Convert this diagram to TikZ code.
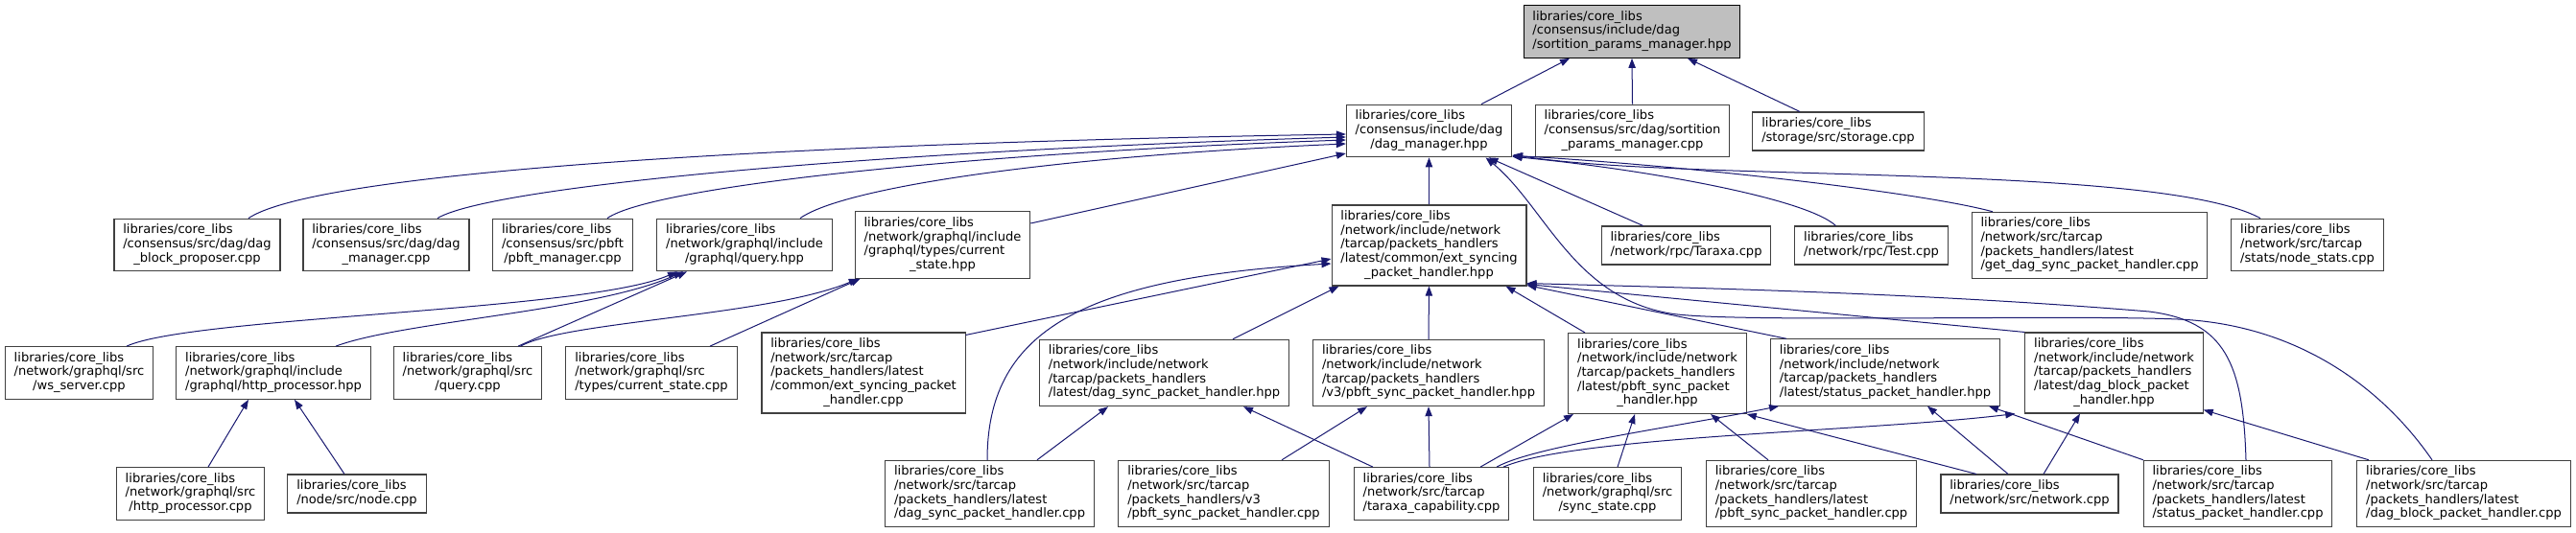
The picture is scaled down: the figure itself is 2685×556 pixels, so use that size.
\documentclass[tikz,border=0pt]{standalone}
\usepackage{fontspec}
\setmainfont{DejaVu Sans}
\usepackage{tikz}
\usetikzlibrary{arrows.meta, calc}

\definecolor{edgeblue}{HTML}{191970}
\definecolor{boxline}{HTML}{404040}
\definecolor{rootfill}{HTML}{BFBFBF}

% file label: left-aligned lines, last line centred
\newcommand{\flines}[2]{\begin{tabular}{@{}l@{}}#1\\\multicolumn{1}{@{}c@{}}{#2}\end{tabular}}

\begin{document}
\begin{tikzpicture}[
    x=0.75pt, y=-0.75pt,
    %% ── node styles ──────────────────────────────────────────
    filebox/.style = {draw=boxline, line width=0.8pt, fill=white,
                      inner xsep=7pt, inner ysep=4pt,
                      font=\fontsize{9.8}{11}\selectfont},
    rootbox/.style = {filebox, draw=black, fill=rootfill},
    incl/.style    = {draw=edgeblue, line width=0.75pt,
                      -{Triangle[length=7.5pt,width=5.5pt]}}
]
\useasboundingbox (0,0) rectangle (2685,556);

%% ── Root header ──────────────────────────────────────────────
\node[rootbox] (spm) at (1701,33)
    {\flines{libraries/core\_libs\\/consensus/include/dag}{/sortition\_params\_manager.hpp}};

%% ── Row 1 ────────────────────────────────────────────────────
\node[filebox] (dmh)  at (1489.5,136.5)
    {\flines{libraries/core\_libs\\/consensus/include/dag}{/dag\_manager.hpp}};
\node[filebox] (spmc) at (1701.5,136.5)
    {\flines{libraries/core\_libs\\/consensus/src/dag/sortition}{\_params\_manager.cpp}};
\node[filebox] (sto)  at (1916,137)
    {\flines{libraries/core\_libs}{/storage/src/storage.cpp}};

%% ── Row 2 ────────────────────────────────────────────────────
\node[filebox] (dbp) at (205.5,255.5)
    {\flines{libraries/core\_libs\\/consensus/src/dag/dag}{\_block\_proposer.cpp}};
\node[filebox] (dmc) at (402.5,255.5)
    {\flines{libraries/core\_libs\\/consensus/src/dag/dag}{\_manager.cpp}};
\node[filebox] (pbm) at (586.5,255.5)
    {\flines{libraries/core\_libs\\/consensus/src/pbft}{/pbft\_manager.cpp}};
\node[filebox] (qh)  at (776,255.5)
    {\flines{libraries/core\_libs\\/network/graphql/include}{/graphql/query.hpp}};
\node[filebox] (csh) at (982.5,255.5)
    {\flines{libraries/core\_libs\\/network/graphql/include\\/graphql/types/current}{\_state.hpp}};
\node[filebox] (esh) at (1489.5,256)
    {\flines{libraries/core\_libs\\/network/include/network\\/tarcap/packets\_handlers\\/latest/common/ext\_syncing}{\_packet\_handler.hpp}};
\node[filebox] (tar) at (1757.5,256)
    {\flines{libraries/core\_libs}{/network/rpc/Taraxa.cpp}};
\node[filebox] (tst) at (1950.5,256)
    {\flines{libraries/core\_libs}{/network/rpc/Test.cpp}};
\node[filebox] (gds) at (2178,256)
    {\flines{libraries/core\_libs\\/network/src/tarcap\\/packets\_handlers/latest}{/get\_dag\_sync\_packet\_handler.cpp}};
\node[filebox] (nst) at (2405,255.5)
    {\flines{libraries/core\_libs\\/network/src/tarcap}{/stats/node\_stats.cpp}};

%% ── Row 3 ────────────────────────────────────────────────────
\node[filebox] (wss) at (82.5,389)
    {\flines{libraries/core\_libs\\/network/graphql/src}{/ws\_server.cpp}};
\node[filebox] (hph) at (285,389)
    {\flines{libraries/core\_libs\\/network/graphql/include}{/graphql/http\_processor.hpp}};
\node[filebox] (qc)  at (487.5,389)
    {\flines{libraries/core\_libs\\/network/graphql/src}{/query.cpp}};
\node[filebox] (csc) at (679,389)
    {\flines{libraries/core\_libs\\/network/graphql/src}{/types/current\_state.cpp}};
\node[filebox] (esc) at (900,389)
    {\flines{libraries/core\_libs\\/network/src/tarcap\\/packets\_handlers/latest\\/common/ext\_syncing\_packet}{\_handler.cpp}};
\node[filebox] (dsh) at (1213.5,389)
    {\flines{libraries/core\_libs\\/network/include/network\\/tarcap/packets\_handlers}{/latest/dag\_sync\_packet\_handler.hpp}};
\node[filebox] (psv3h) at (1489,389)
    {\flines{libraries/core\_libs\\/network/include/network\\/tarcap/packets\_handlers}{/v3/pbft\_sync\_packet\_handler.hpp}};
\node[filebox] (psh) at (1727.5,389.5)
    {\flines{libraries/core\_libs\\/network/include/network\\/tarcap/packets\_handlers\\/latest/pbft\_sync\_packet}{\_handler.hpp}};
\node[filebox] (sth) at (1965,388.5)
    {\flines{libraries/core\_libs\\/network/include/network\\/tarcap/packets\_handlers}{/latest/status\_packet\_handler.hpp}};
\node[filebox] (dbh) at (2203.5,389)
    {\flines{libraries/core\_libs\\/network/include/network\\/tarcap/packets\_handlers\\/latest/dag\_block\_packet}{\_handler.hpp}};

%% ── Row 4 ────────────────────────────────────────────────────
\node[filebox] (hpc) at (198.5,515)
    {\flines{libraries/core\_libs\\/network/graphql/src}{/http\_processor.cpp}};
\node[filebox] (ndc) at (372,515)
    {\flines{libraries/core\_libs}{/node/src/node.cpp}};
\node[filebox] (dsc) at (1031.5,515)
    {\flines{libraries/core\_libs\\/network/src/tarcap\\/packets\_handlers/latest}{/dag\_sync\_packet\_handler.cpp}};
\node[filebox] (psv3c) at (1275.5,515)
    {\flines{libraries/core\_libs\\/network/src/tarcap\\/packets\_handlers/v3}{/pbft\_sync\_packet\_handler.cpp}};
\node[filebox] (tcc) at (1492,515)
    {\flines{libraries/core\_libs\\/network/src/tarcap}{/taraxa\_capability.cpp}};
\node[filebox] (ssc) at (1675.5,515)
    {\flines{libraries/core\_libs\\/network/graphql/src}{/sync\_state.cpp}};
\node[filebox] (psc) at (1888,515)
    {\flines{libraries/core\_libs\\/network/src/tarcap\\/packets\_handlers/latest}{/pbft\_sync\_packet\_handler.cpp}};
\node[filebox] (nwc) at (2115.5,515)
    {\flines{libraries/core\_libs}{/network/src/network.cpp}};
\node[filebox] (stc) at (2332.5,515)
    {\flines{libraries/core\_libs\\/network/src/tarcap\\/packets\_handlers/latest}{/status\_packet\_handler.cpp}};
\node[filebox] (dbc) at (2568,515)
    {\flines{libraries/core\_libs\\/network/src/tarcap\\/packets\_handlers/latest}{/dag\_block\_packet\_handler.cpp}};

%% ── Edges into the root header ───────────────────────────────
\draw[incl] ($(dmh.north)+(54.5,0)$) -- ($(spm.south)+(-65,0)$);
\draw[incl] (spmc.north) -- (spm.south);
\draw[incl] ($(sto.north)+(-40,0)$) -- ($(spm.south)+(58,0)$);

%% ── Edges into dag_manager.hpp ───────────────────────────────
\draw[incl] ($(dbp.north)+(53.5,0)$) .. controls (330,180) and (800,150) .. ($(dmh.west)+(0,3.5)$);
\draw[incl] ($(dmc.north)+(53.5,0)$) .. controls (510,195) and (900,158) .. ($(dmh.west)+(0,6.5)$);
\draw[incl] ($(pbm.north)+(46.5,0)$) .. controls (680,195) and (1000,160) .. ($(dmh.west)+(0,9.5)$);
\draw[incl] ($(qh.north)+(58,0)$) .. controls (880,195) and (1100,163) .. ($(dmh.west)+(0,13.5)$);
\draw[incl] ($(csh.east)+(0,-22.5)$) -- ($(dmh.west)+(0,23.5)$);
\draw[incl] (esh.north) -- (dmh.south);
\draw[incl] ($(tar.north)+(-45,0)$) -- ($(dmh.south)+(62,0)$);
\draw[incl] ($(dbc.north)+(-33,0)$) .. controls (2480,400) and (2390,338) .. (2270,333)
    .. controls (2150,328) and (1800,337) .. (1741,327)
    .. controls (1640,310) and (1610,215) .. ($(dmh.south)+(59,0)$);
\draw[incl] ($(tst.north)+(-37,0)$) .. controls (1880,205) and (1700,175) .. ($(dmh.south east)+(0,-1)$);
\draw[incl] ($(gds.north)+(-101,0)$) .. controls (2000,200) and (1750,172) .. ($(dmh.south east)+(0,-2)$);
\draw[incl] ($(nst.north)+(-49,0)$) .. controls (2250,170) and (1750,190) .. ($(dmh.south east)+(1,-3)$);

%% ── Edges into ext_syncing_packet_handler.hpp ────────────────
\draw[incl] ($(esc.north east)+(0,3)$) -- ($(esh.west)+(0,14)$);
\draw[incl] ($(dsc.north)+(-2.5,0)$) .. controls (1029,350) and (1120,290) .. ($(esh.west)+(0,19)$);
\draw[incl] ($(dsh.north)+(71.5,0)$) -- ($(esh.south west)+(8,0)$);
\draw[incl] (psv3h.north) -- (esh.south);
\draw[incl] ($(psh.north)+(-75.5,0)$) -- ($(esh.south)+(80,0)$);
\draw[incl] ($(sth.north west)+(17,0)$) -- ($(esh.south east)+(0,-1)$);
\draw[incl] (dbh.north west) -- ($(esh.south east)+(0,-2)$);
\draw[incl] ($(stc.north)+(8.5,0)$) .. controls (2338,380) and (2320,335) .. (2240,325)
    .. controls (2000,305) and (1750,300) .. ($(esh.south east)+(0,-3)$);

%% ── Edges from taraxa_capability.cpp ─────────────────────────
\draw[incl] ($(tcc.north)+(-61,0)$) -- ($(dsh.south)+(82.5,0)$);
\draw[incl] ($(tcc.north)+(-2,0)$) -- (psv3h.south);
\draw[incl] ($(tcc.north)+(51,0)$) -- ($(psh.south)+(-87.5,0)$);
\draw[incl] ($(tcc.north)+(68,0)$) .. controls (1600,465) and (1750,445) .. ($(sth.south west)+(9,0)$);
\draw[incl] ($(tcc.north)+(75,0)$) .. controls (1640,455) and (1950,450) .. ($(dbh.south west)+(-10,0)$);

%% ── Edges into the packet handler headers ────────────────────
\draw[incl] ($(dsc.north)+(49.5,0)$) -- ($(dsh.south)+(-58.5,0)$);
\draw[incl] ($(psv3c.north)+(60.5,0)$) -- ($(psv3h.south)+(-64,0)$);
\draw[incl] ($(ssc.north)+(10.5,0)$) -- ($(psh.south)+(-23.5,0)$);
\draw[incl] ($(psc.north)+(-45,0)$) -- ($(psh.south)+(55.5,0)$);
\draw[incl] ($(nwc.north)+(-55.5,0)$) -- (psh.south east);
\draw[incl] ($(nwc.north)+(-22.5,0)$) -- ($(sth.south)+(44,0)$);
\draw[incl] ($(stc.north)+(-98.5,0)$) -- ($(sth.south)+(108,0)$);
\draw[incl] ($(nwc.north)+(14.5,0)$) -- ($(dbh.south)+(-35.5,0)$);
\draw[incl] ($(dbc.north)+(-99,0)$) -- ($(dbh.south east)+(0,-4)$);

%% ── GraphQL edges ────────────────────────────────────────────
\draw[incl] ($(wss.north)+(49.5,0)$) .. controls (200,330) and (610,325) .. ($(qh.south)+(-70,0)$);
\draw[incl] ($(hph.north)+(65,0)$) .. controls (420,335) and (620,325) .. ($(qh.south)+(-64,0)$);
\draw[incl] ($(qc.north)+(52.5,0)$) -- ($(qh.south)+(-60,0)$);
\draw[incl] ($(qc.north)+(55,0)$) .. controls (590,335) and (800,330) .. ($(csh.south west)+(4,0)$);
\draw[incl] ($(csc.north)+(61,0)$) -- ($(csh.south west)+(6,0)$);
\draw[incl] ($(hpc.north)+(18.5,0)$) -- ($(hph.south)+(-26,0)$);
\draw[incl] ($(ndc.north)+(-13,0)$) -- ($(hph.south)+(22,0)$);

\end{tikzpicture}
\end{document}
